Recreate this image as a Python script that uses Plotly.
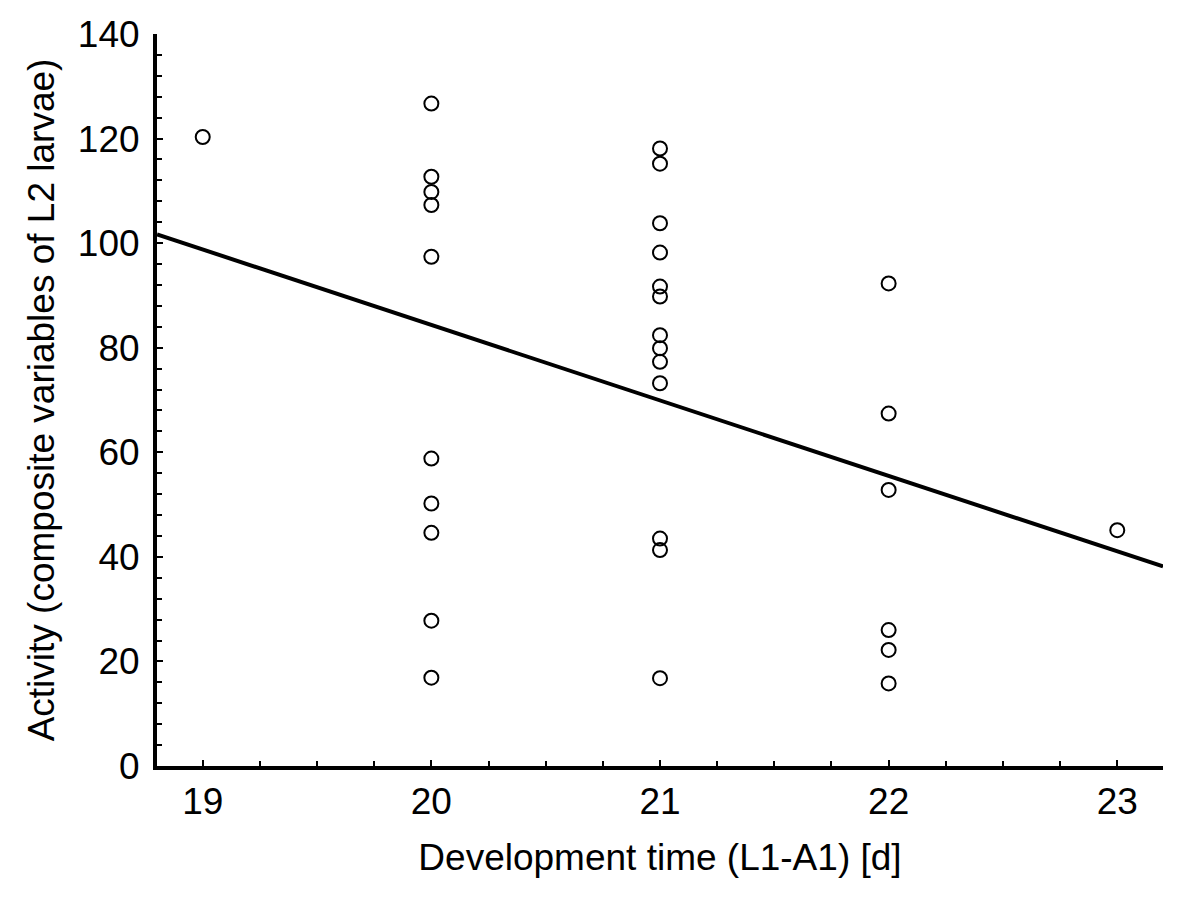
import numpy as np
import plotly.graph_objects as go

# Data
dev_time = [19,
            20, 20, 20, 20, 20, 20, 20, 20, 20, 20,
            21, 21, 21, 21, 21, 21, 21, 21, 21, 21, 21, 21, 21,
            22, 22, 22, 22, 22, 22,
            23]
activity = [120.3,
            126.7, 112.7, 109.8, 107.3, 97.4, 58.8, 50.2, 44.6, 27.8, 16.9,
            118.1, 115.2, 103.8, 98.2, 91.7, 89.8, 82.4, 79.9, 77.3, 73.2, 43.5, 41.3, 16.8,
            92.3, 67.4, 52.8, 26.0, 22.2, 15.8,
            45.1]
x_range = [18.8, 23.2]
y_range = [0, 140]
x_ticks = [19, 20, 21, 22, 23]
y_ticks = [0, 20, 40, 60, 80, 100, 120, 140]

slope, intercept = np.polyfit(dev_time, activity, 1)
fit_x = np.array(x_range)
fit_y = slope * fit_x + intercept

FONT = "Liberation Sans, Arial, sans-serif"

fig = go.Figure()
fig.add_trace(go.Scatter(x=fit_x, y=fit_y, mode="lines",
                         line=dict(color="black", width=4), showlegend=False))
fig.add_trace(go.Scatter(x=dev_time, y=activity, mode="markers",
                         marker=dict(symbol="circle-open", size=14, color="black",
                                     line=dict(color="black", width=2)),
                         showlegend=False))

axis_common = dict(showline=True, linecolor="black", linewidth=4, mirror=False,
                   showgrid=False, zeroline=False, ticks="inside", ticklen=6,
                   tickwidth=2, tickcolor="black",
                   tickfont=dict(family=FONT, size=37, color="black"))

fig.update_xaxes(range=x_range, tickvals=x_ticks,
                 minor=dict(dtick=0.25, tick0=19, ticks="inside", ticklen=5,
                            tickwidth=2, tickcolor="black"),
                 title=dict(text="Development time (L1-A1) [d]",
                            font=dict(family=FONT, size=37, color="black"),
                            standoff=24),
                 **axis_common)
fig.update_yaxes(range=y_range, tickvals=y_ticks,
                 minor=dict(dtick=4, tick0=0, ticks="inside", ticklen=5,
                            tickwidth=2, tickcolor="black"),
                 ticklabelstandoff=6,
                 title=dict(text="Activity (composite variables of L2 larvae)",
                            font=dict(family=FONT, size=37, color="black"),
                            standoff=13),
                 **axis_common)

fig.update_layout(width=1200, height=897,
                  margin=dict(l=149, r=45, t=26, b=139, autoexpand=False),
                  plot_bgcolor="white", paper_bgcolor="white")

fig.write_html("out.html")
